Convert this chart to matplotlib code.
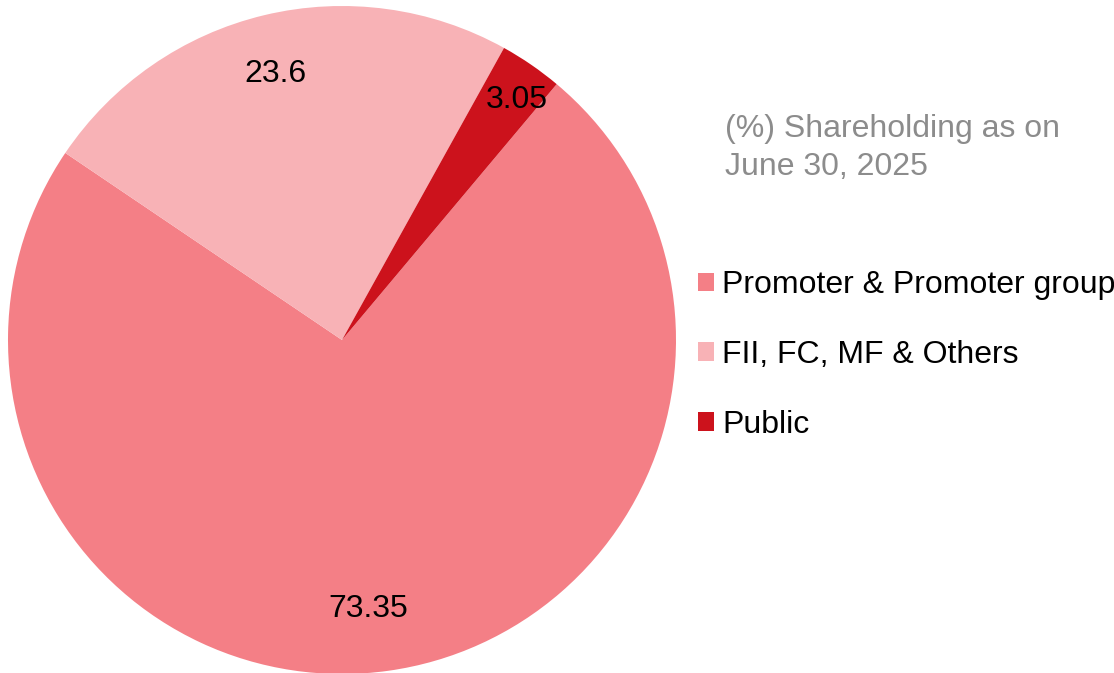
import numpy as np
import matplotlib.pyplot as plt
from matplotlib.patches import Patch

plt.rcParams['font.family'] = ['Liberation Sans', 'DejaVu Sans']

# shareholding data
categories = ['Promoter & Promoter group', 'FII, FC, MF & Others', 'Public']
values = [73.35, 23.6, 3.05]
value_labels = ['73.35', '23.6', '3.05']
colors = ['#F47F86', '#F8B2B6', '#CC121C']
label_dist = [0.81, 0.82, 0.89]
label_shift = [-2.5, 0.5, -1.5]  # degrees, nudges label off the slice middle

fig = plt.figure(figsize=(11.14, 6.73), dpi=100)
W, H = 1114, 673
cx, cy, r = 342, 340, 334
ax = fig.add_axes([(cx - r) / W, (H - cy - r) / H, 2 * r / W, 2 * r / H])

wedges, _ = ax.pie(values, colors=colors, startangle=50, counterclock=False,
                   radius=1, wedgeprops=dict(linewidth=0))
ax.set_xlim(-1, 1)
ax.set_ylim(-1, 1)
ax.set_aspect('equal')
ax.axis('off')

# value labels near the middle of each slice
for w, txt, d, s in zip(wedges, value_labels, label_dist, label_shift):
    ang = np.deg2rad((w.theta1 + w.theta2) / 2 + s)
    ax.text(d * np.cos(ang), d * np.sin(ang), txt, ha='center', va='center',
            fontsize=23, color='black')

fig.text(725 / W, 1 - 114 / H, '(%) Shareholding as on\nJune 30, 2025',
         ha='left', va='top', fontsize=23, color='#8C8C8C', linespacing=1.35)

handles = [Patch(facecolor=c, edgecolor='none') for c in colors]
fig.legend(handles, categories, loc='upper left',
           bbox_to_anchor=(698 / W, 1 - 270 / H), frameon=False, fontsize=23,
           handlelength=0.5, handleheight=0.5, handletextpad=0.25,
           labelspacing=1.25, borderaxespad=0, borderpad=0)

fig.savefig('out.png', dpi=100)
